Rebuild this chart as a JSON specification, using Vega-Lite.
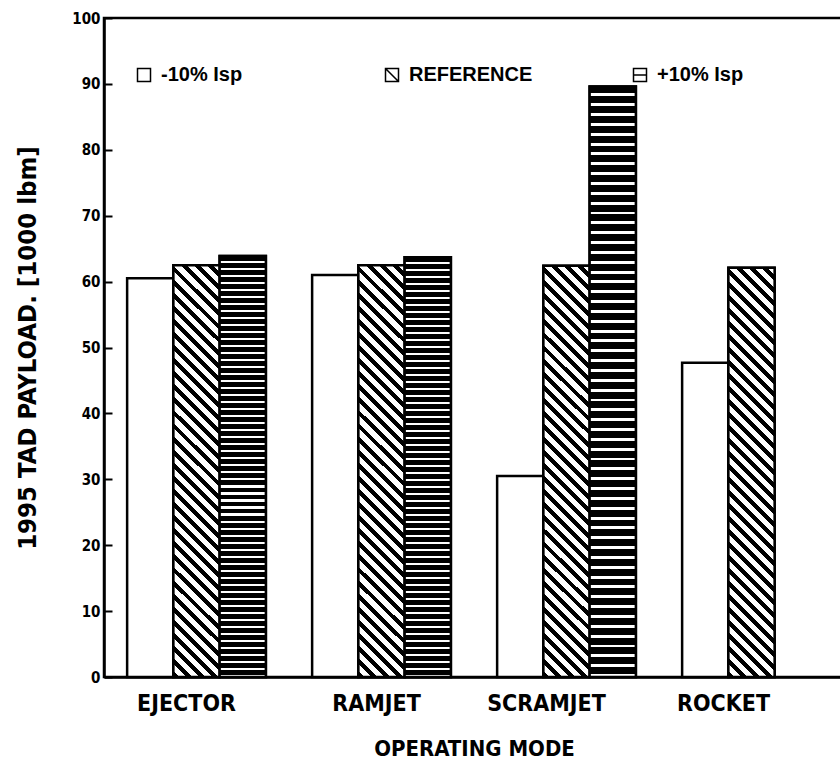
{
  "$schema": "https://vega.github.io/schema/vega-lite/v6.json",
  "width": 740,
  "height": 659,
  "autosize": {"type": "none"},
  "padding": {"left": 104, "top": 18, "right": 0, "bottom": 101},
  "background": "white",
  "view": {"stroke": "black", "strokeWidth": 2.5},
  "data": {
    "values": [
      {"mode": "EJECTOR", "series": "-10% Isp", "value": 60.5},
      {"mode": "EJECTOR", "series": "REFERENCE", "value": 62.5},
      {"mode": "EJECTOR", "series": "+10% Isp", "value": 63.9},
      {"mode": "RAMJET", "series": "-10% Isp", "value": 61.0},
      {"mode": "RAMJET", "series": "REFERENCE", "value": 62.5},
      {"mode": "RAMJET", "series": "+10% Isp", "value": 63.7},
      {"mode": "SCRAMJET", "series": "-10% Isp", "value": 30.5},
      {"mode": "SCRAMJET", "series": "REFERENCE", "value": 62.4},
      {"mode": "SCRAMJET", "series": "+10% Isp", "value": 89.6},
      {"mode": "ROCKET", "series": "-10% Isp", "value": 47.7},
      {"mode": "ROCKET", "series": "REFERENCE", "value": 62.1}
    ]
  },
  "encoding": {
    "x": {
      "field": "mode", "type": "nominal",
      "scale": {"domain": ["EJECTOR", "RAMJET", "SCRAMJET", "ROCKET"], "paddingInner": 0.25, "paddingOuter": 0.125},
      "axis": {
        "title": "OPERATING MODE",
        "labelAngle": 0,
        "ticks": false,
        "domainColor": "black", "domainWidth": 2.5,
        "labelFont": "DejaVu Sans Condensed", "labelFontWeight": "bold", "labelFontSize": 23, "labelColor": "black",
        "labelPadding": 15,
        "labelOffset": {
          "condition": [
            {"test": "datum.value === 'EJECTOR'", "value": -10},
            {"test": "datum.value === 'RAMJET'", "value": -5},
            {"test": "datum.value === 'SCRAMJET'", "value": -20}
          ],
          "value": -28
        },
        "titleFont": "DejaVu Sans Condensed", "titleFontWeight": "bold", "titleFontSize": 22, "titleColor": "black",
        "titlePadding": 23
      }
    },
    "xOffset": {
      "field": "series", "type": "nominal",
      "scale": {"domain": ["-10% Isp", "REFERENCE", "+10% Isp"], "paddingInner": 0, "paddingOuter": 0}
    },
    "y": {
      "field": "value", "type": "quantitative",
      "scale": {"domain": [0, 100], "nice": false},
      "axis": {
        "title": "1995 TAD PAYLOAD. [1000 lbm]",
        "values": [0, 10, 20, 30, 40, 50, 60, 70, 80, 90, 100],
        "grid": false,
        "domainColor": "black", "domainWidth": 2.5,
        "tickColor": "black", "tickWidth": 2, "tickSize": -8,
        "labelFont": "DejaVu Sans Condensed", "labelFontWeight": "bold", "labelFontSize": 15, "labelColor": "black",
        "labelPadding": 12,
        "titleFont": "DejaVu Sans Condensed", "titleFontWeight": "bold", "titleFontSize": 25.5, "titleColor": "black",
        "titlePadding": 31
      }
    }
  },
  "layer": [
    {
      "mark": {"type": "point", "filled": true, "fill": "white", "stroke": "black", "strokeWidth": 2.5, "size": 169, "opacity": 1},
      "encoding": {
        "y": {"datum": 10, "type": "quantitative"},
        "shape": {
          "field": "series", "type": "nominal",
          "scale": {
            "domain": ["-10% Isp", "REFERENCE", "+10% Isp"],
            "range": ["M-1,-1H1V1H-1Z", "M-1,-1H1V1H-1Z M-1,-1L1,1", "M-1,-1H1V1H-1Z M-1,0H1"]
          },
          "legend": {
            "title": null,
            "orient": "none",
            "legendX": 30,
            "legendY": 47,
            "direction": "horizontal",
            "gridAlign": "all",
            "columnPadding": 97,
            "padding": 0,
            "symbolSize": 169,
            "labelFont": "Liberation Sans",
            "labelFontWeight": "bold",
            "labelFontSize": 20,
            "labelColor": "black",
            "labelOffset": 7,
            "encode": {
              "symbols": {
                "update": {
                  "fill": {"value": "white"},
                  "stroke": {"value": "black"},
                  "strokeWidth": {"value": 2.5},
                  "opacity": {"value": 1},
                  "fillOpacity": {"value": 1},
                  "strokeOpacity": {"value": 1}
                }
              }
            }
          }
        }
      }
    },
    {
      "mark": {"type": "bar", "fill": "white", "stroke": "black", "strokeWidth": 2.5}
    },
    {
      "transform": [{"filter": "datum.series === 'REFERENCE'"}],
      "mark": {
        "type": "bar", "stroke": "black", "strokeWidth": 2.5,
        "fill": {
          "gradient": "linear", "x1": 0, "y1": 1, "x2": 0.1229, "y2": -0.0982,
          "stops": [
            {"offset": 0, "color": "#000"}, {"offset": 0.0129, "color": "#000"}, {"offset": 0.0129, "color": "#fff"}, {"offset": 0.0286, "color": "#fff"},
            {"offset": 0.0286, "color": "#000"}, {"offset": 0.0415, "color": "#000"}, {"offset": 0.0415, "color": "#fff"}, {"offset": 0.0571, "color": "#fff"},
            {"offset": 0.0571, "color": "#000"}, {"offset": 0.0700, "color": "#000"}, {"offset": 0.0700, "color": "#fff"}, {"offset": 0.0857, "color": "#fff"},
            {"offset": 0.0857, "color": "#000"}, {"offset": 0.0986, "color": "#000"}, {"offset": 0.0986, "color": "#fff"}, {"offset": 0.1143, "color": "#fff"},
            {"offset": 0.1143, "color": "#000"}, {"offset": 0.1272, "color": "#000"}, {"offset": 0.1272, "color": "#fff"}, {"offset": 0.1429, "color": "#fff"},
            {"offset": 0.1429, "color": "#000"}, {"offset": 0.1558, "color": "#000"}, {"offset": 0.1558, "color": "#fff"}, {"offset": 0.1714, "color": "#fff"},
            {"offset": 0.1714, "color": "#000"}, {"offset": 0.1843, "color": "#000"}, {"offset": 0.1843, "color": "#fff"}, {"offset": 0.2, "color": "#fff"},
            {"offset": 0.2, "color": "#000"}, {"offset": 0.2129, "color": "#000"}, {"offset": 0.2129, "color": "#fff"}, {"offset": 0.2286, "color": "#fff"},
            {"offset": 0.2286, "color": "#000"}, {"offset": 0.2415, "color": "#000"}, {"offset": 0.2415, "color": "#fff"}, {"offset": 0.2571, "color": "#fff"},
            {"offset": 0.2571, "color": "#000"}, {"offset": 0.27, "color": "#000"}, {"offset": 0.27, "color": "#fff"}, {"offset": 0.2857, "color": "#fff"},
            {"offset": 0.2857, "color": "#000"}, {"offset": 0.2986, "color": "#000"}, {"offset": 0.2986, "color": "#fff"}, {"offset": 0.3143, "color": "#fff"},
            {"offset": 0.3143, "color": "#000"}, {"offset": 0.3272, "color": "#000"}, {"offset": 0.3272, "color": "#fff"}, {"offset": 0.3429, "color": "#fff"},
            {"offset": 0.3429, "color": "#000"}, {"offset": 0.3558, "color": "#000"}, {"offset": 0.3558, "color": "#fff"}, {"offset": 0.3714, "color": "#fff"},
            {"offset": 0.3714, "color": "#000"}, {"offset": 0.3843, "color": "#000"}, {"offset": 0.3843, "color": "#fff"}, {"offset": 0.4, "color": "#fff"},
            {"offset": 0.4, "color": "#000"}, {"offset": 0.4129, "color": "#000"}, {"offset": 0.4129, "color": "#fff"}, {"offset": 0.4286, "color": "#fff"},
            {"offset": 0.4286, "color": "#000"}, {"offset": 0.4415, "color": "#000"}, {"offset": 0.4415, "color": "#fff"}, {"offset": 0.4571, "color": "#fff"},
            {"offset": 0.4571, "color": "#000"}, {"offset": 0.47, "color": "#000"}, {"offset": 0.47, "color": "#fff"}, {"offset": 0.4857, "color": "#fff"},
            {"offset": 0.4857, "color": "#000"}, {"offset": 0.4986, "color": "#000"}, {"offset": 0.4986, "color": "#fff"}, {"offset": 0.5143, "color": "#fff"},
            {"offset": 0.5143, "color": "#000"}, {"offset": 0.5272, "color": "#000"}, {"offset": 0.5272, "color": "#fff"}, {"offset": 0.5429, "color": "#fff"},
            {"offset": 0.5429, "color": "#000"}, {"offset": 0.5558, "color": "#000"}, {"offset": 0.5558, "color": "#fff"}, {"offset": 0.5714, "color": "#fff"},
            {"offset": 0.5714, "color": "#000"}, {"offset": 0.5843, "color": "#000"}, {"offset": 0.5843, "color": "#fff"}, {"offset": 0.6, "color": "#fff"},
            {"offset": 0.6, "color": "#000"}, {"offset": 0.6129, "color": "#000"}, {"offset": 0.6129, "color": "#fff"}, {"offset": 0.6286, "color": "#fff"},
            {"offset": 0.6286, "color": "#000"}, {"offset": 0.6415, "color": "#000"}, {"offset": 0.6415, "color": "#fff"}, {"offset": 0.6571, "color": "#fff"},
            {"offset": 0.6571, "color": "#000"}, {"offset": 0.67, "color": "#000"}, {"offset": 0.67, "color": "#fff"}, {"offset": 0.6857, "color": "#fff"},
            {"offset": 0.6857, "color": "#000"}, {"offset": 0.6986, "color": "#000"}, {"offset": 0.6986, "color": "#fff"}, {"offset": 0.7143, "color": "#fff"},
            {"offset": 0.7143, "color": "#000"}, {"offset": 0.7272, "color": "#000"}, {"offset": 0.7272, "color": "#fff"}, {"offset": 0.7429, "color": "#fff"},
            {"offset": 0.7429, "color": "#000"}, {"offset": 0.7558, "color": "#000"}, {"offset": 0.7558, "color": "#fff"}, {"offset": 0.7714, "color": "#fff"},
            {"offset": 0.7714, "color": "#000"}, {"offset": 0.7843, "color": "#000"}, {"offset": 0.7843, "color": "#fff"}, {"offset": 0.8, "color": "#fff"},
            {"offset": 0.8, "color": "#000"}, {"offset": 0.8129, "color": "#000"}, {"offset": 0.8129, "color": "#fff"}, {"offset": 0.8286, "color": "#fff"},
            {"offset": 0.8286, "color": "#000"}, {"offset": 0.8415, "color": "#000"}, {"offset": 0.8415, "color": "#fff"}, {"offset": 0.8571, "color": "#fff"},
            {"offset": 0.8571, "color": "#000"}, {"offset": 0.87, "color": "#000"}, {"offset": 0.87, "color": "#fff"}, {"offset": 0.8857, "color": "#fff"},
            {"offset": 0.8857, "color": "#000"}, {"offset": 0.8986, "color": "#000"}, {"offset": 0.8986, "color": "#fff"}, {"offset": 0.9143, "color": "#fff"},
            {"offset": 0.9143, "color": "#000"}, {"offset": 0.9272, "color": "#000"}, {"offset": 0.9272, "color": "#fff"}, {"offset": 0.9429, "color": "#fff"},
            {"offset": 0.9429, "color": "#000"}, {"offset": 0.9558, "color": "#000"}, {"offset": 0.9558, "color": "#fff"}, {"offset": 0.9714, "color": "#fff"},
            {"offset": 0.9714, "color": "#000"}, {"offset": 0.9843, "color": "#000"}, {"offset": 0.9843, "color": "#fff"}, {"offset": 1, "color": "#fff"}
          ]
        }
      }
    },
    {
      "transform": [{"filter": "datum.series === '+10% Isp'"}],
      "mark": {
        "type": "bar", "stroke": "black", "strokeWidth": 2.5,
        "fill": {
          "gradient": "linear", "x1": 0, "y1": 0, "x2": 0, "y2": 1,
          "stops": [
            {"offset": 0, "color": "#000"}, {"offset": 0.0117, "color": "#000"}, {"offset": 0.0117, "color": "#fff"}, {"offset": 0.0167, "color": "#fff"},
            {"offset": 0.0167, "color": "#000"}, {"offset": 0.0284, "color": "#000"}, {"offset": 0.0284, "color": "#fff"}, {"offset": 0.0333, "color": "#fff"},
            {"offset": 0.0333, "color": "#000"}, {"offset": 0.045, "color": "#000"}, {"offset": 0.045, "color": "#fff"}, {"offset": 0.05, "color": "#fff"},
            {"offset": 0.05, "color": "#000"}, {"offset": 0.0617, "color": "#000"}, {"offset": 0.0617, "color": "#fff"}, {"offset": 0.0667, "color": "#fff"},
            {"offset": 0.0667, "color": "#000"}, {"offset": 0.0784, "color": "#000"}, {"offset": 0.0784, "color": "#fff"}, {"offset": 0.0833, "color": "#fff"},
            {"offset": 0.0833, "color": "#000"}, {"offset": 0.095, "color": "#000"}, {"offset": 0.095, "color": "#fff"}, {"offset": 0.1, "color": "#fff"},
            {"offset": 0.1, "color": "#000"}, {"offset": 0.1117, "color": "#000"}, {"offset": 0.1117, "color": "#fff"}, {"offset": 0.1167, "color": "#fff"},
            {"offset": 0.1167, "color": "#000"}, {"offset": 0.1284, "color": "#000"}, {"offset": 0.1284, "color": "#fff"}, {"offset": 0.1333, "color": "#fff"},
            {"offset": 0.1333, "color": "#000"}, {"offset": 0.145, "color": "#000"}, {"offset": 0.145, "color": "#fff"}, {"offset": 0.15, "color": "#fff"},
            {"offset": 0.15, "color": "#000"}, {"offset": 0.1617, "color": "#000"}, {"offset": 0.1617, "color": "#fff"}, {"offset": 0.1667, "color": "#fff"},
            {"offset": 0.1667, "color": "#000"}, {"offset": 0.1784, "color": "#000"}, {"offset": 0.1784, "color": "#fff"}, {"offset": 0.1833, "color": "#fff"},
            {"offset": 0.1833, "color": "#000"}, {"offset": 0.195, "color": "#000"}, {"offset": 0.195, "color": "#fff"}, {"offset": 0.2, "color": "#fff"},
            {"offset": 0.2, "color": "#000"}, {"offset": 0.2117, "color": "#000"}, {"offset": 0.2117, "color": "#fff"}, {"offset": 0.2167, "color": "#fff"},
            {"offset": 0.2167, "color": "#000"}, {"offset": 0.2284, "color": "#000"}, {"offset": 0.2284, "color": "#fff"}, {"offset": 0.2333, "color": "#fff"},
            {"offset": 0.2333, "color": "#000"}, {"offset": 0.245, "color": "#000"}, {"offset": 0.245, "color": "#fff"}, {"offset": 0.25, "color": "#fff"},
            {"offset": 0.25, "color": "#000"}, {"offset": 0.2617, "color": "#000"}, {"offset": 0.2617, "color": "#fff"}, {"offset": 0.2667, "color": "#fff"},
            {"offset": 0.2667, "color": "#000"}, {"offset": 0.2784, "color": "#000"}, {"offset": 0.2784, "color": "#fff"}, {"offset": 0.2833, "color": "#fff"},
            {"offset": 0.2833, "color": "#000"}, {"offset": 0.295, "color": "#000"}, {"offset": 0.295, "color": "#fff"}, {"offset": 0.3, "color": "#fff"},
            {"offset": 0.3, "color": "#000"}, {"offset": 0.3117, "color": "#000"}, {"offset": 0.3117, "color": "#fff"}, {"offset": 0.3167, "color": "#fff"},
            {"offset": 0.3167, "color": "#000"}, {"offset": 0.3284, "color": "#000"}, {"offset": 0.3284, "color": "#fff"}, {"offset": 0.3333, "color": "#fff"},
            {"offset": 0.3333, "color": "#000"}, {"offset": 0.345, "color": "#000"}, {"offset": 0.345, "color": "#fff"}, {"offset": 0.35, "color": "#fff"},
            {"offset": 0.35, "color": "#000"}, {"offset": 0.3617, "color": "#000"}, {"offset": 0.3617, "color": "#fff"}, {"offset": 0.3667, "color": "#fff"},
            {"offset": 0.3667, "color": "#000"}, {"offset": 0.3784, "color": "#000"}, {"offset": 0.3784, "color": "#fff"}, {"offset": 0.3833, "color": "#fff"},
            {"offset": 0.3833, "color": "#000"}, {"offset": 0.395, "color": "#000"}, {"offset": 0.395, "color": "#fff"}, {"offset": 0.4, "color": "#fff"},
            {"offset": 0.4, "color": "#000"}, {"offset": 0.4117, "color": "#000"}, {"offset": 0.4117, "color": "#fff"}, {"offset": 0.4167, "color": "#fff"},
            {"offset": 0.4167, "color": "#000"}, {"offset": 0.4284, "color": "#000"}, {"offset": 0.4284, "color": "#fff"}, {"offset": 0.4333, "color": "#fff"},
            {"offset": 0.4333, "color": "#000"}, {"offset": 0.445, "color": "#000"}, {"offset": 0.445, "color": "#fff"}, {"offset": 0.45, "color": "#fff"},
            {"offset": 0.45, "color": "#000"}, {"offset": 0.4617, "color": "#000"}, {"offset": 0.4617, "color": "#fff"}, {"offset": 0.4667, "color": "#fff"},
            {"offset": 0.4667, "color": "#000"}, {"offset": 0.4784, "color": "#000"}, {"offset": 0.4784, "color": "#fff"}, {"offset": 0.4833, "color": "#fff"},
            {"offset": 0.4833, "color": "#000"}, {"offset": 0.495, "color": "#000"}, {"offset": 0.495, "color": "#fff"}, {"offset": 0.5, "color": "#fff"},
            {"offset": 0.5, "color": "#000"}, {"offset": 0.5117, "color": "#000"}, {"offset": 0.5117, "color": "#fff"}, {"offset": 0.5167, "color": "#fff"},
            {"offset": 0.5167, "color": "#000"}, {"offset": 0.5284, "color": "#000"}, {"offset": 0.5284, "color": "#fff"}, {"offset": 0.5333, "color": "#fff"},
            {"offset": 0.5333, "color": "#000"}, {"offset": 0.545, "color": "#000"}, {"offset": 0.545, "color": "#fff"}, {"offset": 0.55, "color": "#fff"},
            {"offset": 0.55, "color": "#000"}, {"offset": 0.5617, "color": "#000"}, {"offset": 0.5617, "color": "#fff"}, {"offset": 0.5667, "color": "#fff"},
            {"offset": 0.5667, "color": "#000"}, {"offset": 0.5784, "color": "#000"}, {"offset": 0.5784, "color": "#fff"}, {"offset": 0.5833, "color": "#fff"},
            {"offset": 0.5833, "color": "#000"}, {"offset": 0.595, "color": "#000"}, {"offset": 0.595, "color": "#fff"}, {"offset": 0.6, "color": "#fff"},
            {"offset": 0.6, "color": "#000"}, {"offset": 0.6117, "color": "#000"}, {"offset": 0.6117, "color": "#fff"}, {"offset": 0.6167, "color": "#fff"},
            {"offset": 0.6167, "color": "#000"}, {"offset": 0.6284, "color": "#000"}, {"offset": 0.6284, "color": "#fff"}, {"offset": 0.6333, "color": "#fff"},
            {"offset": 0.6333, "color": "#000"}, {"offset": 0.645, "color": "#000"}, {"offset": 0.645, "color": "#fff"}, {"offset": 0.65, "color": "#fff"},
            {"offset": 0.65, "color": "#000"}, {"offset": 0.6617, "color": "#000"}, {"offset": 0.6617, "color": "#fff"}, {"offset": 0.6667, "color": "#fff"},
            {"offset": 0.6667, "color": "#000"}, {"offset": 0.6784, "color": "#000"}, {"offset": 0.6784, "color": "#fff"}, {"offset": 0.6833, "color": "#fff"},
            {"offset": 0.6833, "color": "#000"}, {"offset": 0.695, "color": "#000"}, {"offset": 0.695, "color": "#fff"}, {"offset": 0.7, "color": "#fff"},
            {"offset": 0.7, "color": "#000"}, {"offset": 0.7117, "color": "#000"}, {"offset": 0.7117, "color": "#fff"}, {"offset": 0.7167, "color": "#fff"},
            {"offset": 0.7167, "color": "#000"}, {"offset": 0.7284, "color": "#000"}, {"offset": 0.7284, "color": "#fff"}, {"offset": 0.7333, "color": "#fff"},
            {"offset": 0.7333, "color": "#000"}, {"offset": 0.745, "color": "#000"}, {"offset": 0.745, "color": "#fff"}, {"offset": 0.75, "color": "#fff"},
            {"offset": 0.75, "color": "#000"}, {"offset": 0.7617, "color": "#000"}, {"offset": 0.7617, "color": "#fff"}, {"offset": 0.7667, "color": "#fff"},
            {"offset": 0.7667, "color": "#000"}, {"offset": 0.7784, "color": "#000"}, {"offset": 0.7784, "color": "#fff"}, {"offset": 0.7833, "color": "#fff"},
            {"offset": 0.7833, "color": "#000"}, {"offset": 0.795, "color": "#000"}, {"offset": 0.795, "color": "#fff"}, {"offset": 0.8, "color": "#fff"},
            {"offset": 0.8, "color": "#000"}, {"offset": 0.8117, "color": "#000"}, {"offset": 0.8117, "color": "#fff"}, {"offset": 0.8167, "color": "#fff"},
            {"offset": 0.8167, "color": "#000"}, {"offset": 0.8284, "color": "#000"}, {"offset": 0.8284, "color": "#fff"}, {"offset": 0.8333, "color": "#fff"},
            {"offset": 0.8333, "color": "#000"}, {"offset": 0.845, "color": "#000"}, {"offset": 0.845, "color": "#fff"}, {"offset": 0.85, "color": "#fff"},
            {"offset": 0.85, "color": "#000"}, {"offset": 0.8617, "color": "#000"}, {"offset": 0.8617, "color": "#fff"}, {"offset": 0.8667, "color": "#fff"},
            {"offset": 0.8667, "color": "#000"}, {"offset": 0.8784, "color": "#000"}, {"offset": 0.8784, "color": "#fff"}, {"offset": 0.8833, "color": "#fff"},
            {"offset": 0.8833, "color": "#000"}, {"offset": 0.895, "color": "#000"}, {"offset": 0.895, "color": "#fff"}, {"offset": 0.9, "color": "#fff"},
            {"offset": 0.9, "color": "#000"}, {"offset": 0.9117, "color": "#000"}, {"offset": 0.9117, "color": "#fff"}, {"offset": 0.9167, "color": "#fff"},
            {"offset": 0.9167, "color": "#000"}, {"offset": 0.9284, "color": "#000"}, {"offset": 0.9284, "color": "#fff"}, {"offset": 0.9333, "color": "#fff"},
            {"offset": 0.9333, "color": "#000"}, {"offset": 0.945, "color": "#000"}, {"offset": 0.945, "color": "#fff"}, {"offset": 0.95, "color": "#fff"},
            {"offset": 0.95, "color": "#000"}, {"offset": 0.9617, "color": "#000"}, {"offset": 0.9617, "color": "#fff"}, {"offset": 0.9667, "color": "#fff"},
            {"offset": 0.9667, "color": "#000"}, {"offset": 0.9784, "color": "#000"}, {"offset": 0.9784, "color": "#fff"}, {"offset": 0.9833, "color": "#fff"},
            {"offset": 0.9833, "color": "#000"}, {"offset": 0.995, "color": "#000"}, {"offset": 0.995, "color": "#fff"}, {"offset": 1, "color": "#fff"}
          ]
        }
      }
    }
  ]
}
